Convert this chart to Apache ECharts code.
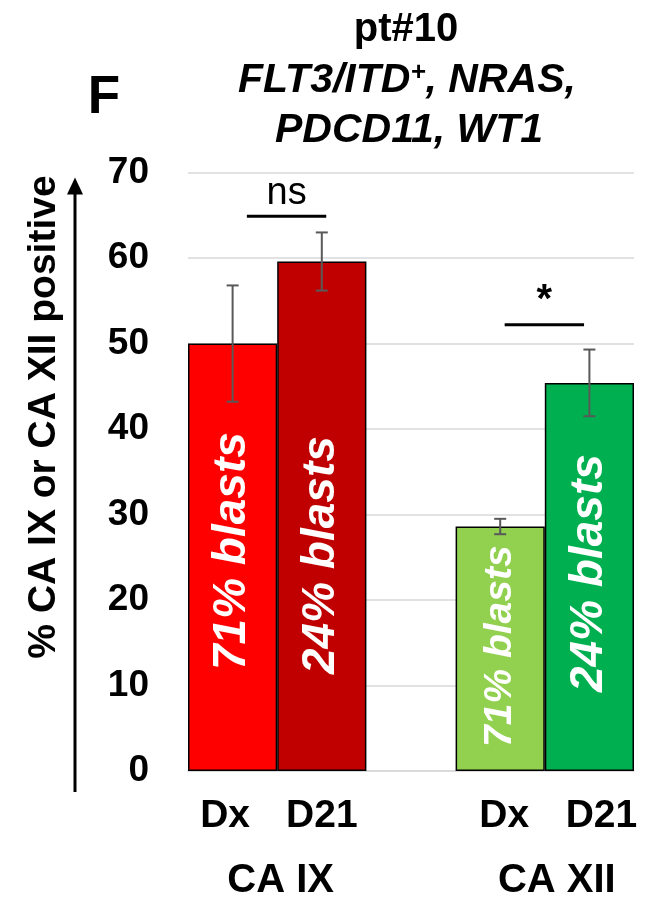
<!DOCTYPE html>
<html><head><meta charset="utf-8">
<script src="https://cdn.jsdelivr.net/npm/echarts@6/dist/echarts.min.js"></script>
<style>html,body{margin:0;padding:0;background:#fff}#c{width:646px;height:905px}</style>
</head><body><div id="c"></div>
<script>
// ---- data ----
const categories = ['Dx', 'D21', '', 'Dx', 'D21'];
const groups = ['CA IX', 'CA XII'];
const values = [50.0, 59.6, null, 28.6, 45.4];
const errLow = [43.2, 56.2, null, 27.7, 41.5];
const errHigh = [56.8, 63.0, null, 29.5, 49.3];
const blastLabels = ['71% blasts', '24% blasts', '', '71% blasts', '24% blasts'];
const yMin = 0, yMax = 70, yStep = 10;
const sigLabels = ['ns', '*'];
const titleLine1 = 'pt#10';
const panelLetter = 'F';
const yName = '% CA IX or CA XII positive';

// ---- styles ----
const FONT = '"Liberation Sans", Arial, sans-serif';
const barColors = ['#FF0000', '#C00000', '#ffffff', '#92D050', '#00B050'];
const labelDist = [94, 94, 0, 19, 79];
const labelSize = [46, 46, 0, 39, 46];
const labelShift = [7, 3, 0, 5, 0];
const catPad = [[0, 15, 0, 0], [0, 0, 0, 0], [0, 0, 0, 0], [0, 0, 0, 8], [0, 0, 0, 24]];
const groupShift = [3.5, 12];

const chart = echarts.init(document.getElementById('c'), null, {renderer: 'canvas'});

const barData = values.map((v, i) => ({
  value: v,
  itemStyle: {color: barColors[i]},
  label: {distance: labelDist[i], fontSize: labelSize[i], offset: [labelShift[i], 0]}
}));
const errData = [];
values.forEach((v, i) => { if (v != null) errData.push([i, errLow[i], errHigh[i]]); });

const rich = {};
catPad.forEach((p, i) => { rich['c' + i] = {padding: p, color: '#000', fontFamily: FONT, fontWeight: 'bold', fontSize: 39}; });

chart.setOption({
  animation: false,
  backgroundColor: '#fff',
  grid: {left: 188, right: 12, top: 172.6, bottom: 134},
  xAxis: {
    type: 'category', data: categories,
    axisLine: {show: true, lineStyle: {color: '#d9d9d9', width: 1.5}},
    axisTick: {show: false},
    axisLabel: {interval: 0, margin: 26, formatter: (v, i) => v ? '{c' + i + '|' + v + '}' : '', rich: rich}
  },
  yAxis: {
    type: 'value', min: yMin, max: yMax, interval: yStep,
    axisLine: {show: false}, axisTick: {show: false},
    axisLabel: {color: '#000', fontFamily: FONT, fontWeight: 'bold', fontSize: 37, margin: 39},
    splitLine: {lineStyle: {color: '#d9d9d9', width: 1.5}}
  },
  series: [{
    type: 'bar', data: barData, barCategoryGap: 0,
    itemStyle: {borderColor: '#000', borderWidth: 1.5},
    label: {
      show: true, position: 'insideBottom', rotate: 90, align: 'left', verticalAlign: 'middle',
      formatter: p => blastLabels[p.dataIndex],
      color: '#fff', fontFamily: FONT, fontWeight: 'bold', fontStyle: 'italic'
    },
    z: 2
  }, {
    type: 'custom', data: errData, z: 5,
    renderItem: function (params, api) {
      const x = api.value(0);
      const lo = api.coord([x, api.value(1)]);
      const hi = api.coord([x, api.value(2)]);
      const w = 6;
      const st = {stroke: '#595959', lineWidth: 2};
      return {type: 'group', children: [
        {type: 'line', shape: {x1: lo[0], y1: lo[1], x2: hi[0], y2: hi[1]}, style: st},
        {type: 'line', shape: {x1: lo[0] - w, y1: lo[1], x2: lo[0] + w, y2: lo[1]}, style: st},
        {type: 'line', shape: {x1: hi[0] - w, y1: hi[1], x2: hi[0] + w, y2: hi[1]}, style: st}
      ]};
    }
  }]
});

// ---- annotations positioned from the axes ----
const cx = i => chart.convertToPixel({xAxisIndex: 0}, i);
const bw = cx(1) - cx(0);
const xAt = f => cx(0) + f * bw;          // fractional category position
const yAt = v => chart.convertToPixel({yAxisIndex: 0}, v);
const y0 = yAt(0), yTop = yAt(yMax);

const g = [];
// title
g.push({type: 'text', style: {text: titleLine1, x: 406, y: 30, align: 'center', verticalAlign: 'middle', font: 'bold 40px ' + FONT, fill: '#000'}});
g.push({type: 'text', style: {
  text: '{a|FLT3/ITD}{s|+}{a|, NRAS,}', x: 407, y: 81, align: 'center', verticalAlign: 'middle',
  rich: {a: {font: 'italic bold 41px ' + FONT, fill: '#000'}, s: {font: 'italic bold 26px ' + FONT, fill: '#000', verticalAlign: 'top', padding: [0, 0, 16, 0]}}
}});
g.push({type: 'text', style: {text: 'PDCD11, WT1', x: 409, y: 131, align: 'center', verticalAlign: 'middle', font: 'italic bold 41px ' + FONT, fill: '#000'}});
// panel letter
g.push({type: 'text', style: {text: panelLetter, x: 104, y: 98, align: 'center', verticalAlign: 'middle', font: 'bold 53px ' + FONT, fill: '#000'}});
// y axis name
g.push({type: 'text', rotation: Math.PI / 2, x: 44, y: 417, style: {text: yName, x: 0, y: 0, align: 'center', verticalAlign: 'middle', font: 'bold 39px ' + FONT, fill: '#000'}});
// arrow axis
g.push({type: 'line', shape: {x1: 75, y1: y0 + 21, x2: 75, y2: yTop + 18}, style: {stroke: '#000', lineWidth: 3}});
g.push({type: 'polygon', shape: {points: [[75, yTop + 5], [67, yTop + 22], [83, yTop + 22]]}, style: {fill: '#000'}});
// group labels
[[0, 1], [3, 4]].forEach((pair, k) => {
  const mx = (cx(pair[0]) + cx(pair[1])) / 2 + groupShift[k];
  g.push({type: 'text', style: {text: groups[k], x: mx, y: 881, align: 'center', verticalAlign: 'middle', font: 'bold 40px ' + FONT, fill: '#000'}});
});
// significance marks
const sig = [
  {x1: 0.16, x2: 1.05, lineV: 64.9, textV: 67.6},
  {x1: 3.05, x2: 3.94, lineV: 52.2, textV: 55.0}
];
sig.forEach((s, k) => {
  const a = xAt(s.x1), b = xAt(s.x2), ly = yAt(s.lineV);
  g.push({type: 'line', shape: {x1: a, y1: ly, x2: b, y2: ly}, style: {stroke: '#000', lineWidth: 3}});
  g.push({type: 'text', style: {text: sigLabels[k], x: (a + b) / 2, y: yAt(s.textV), align: 'center', verticalAlign: 'middle', font: (k === 0 ? '38px ' : 'bold 40px ') + FONT, fill: '#000'}});
});
chart.setOption({graphic: g});
</script></body></html>
